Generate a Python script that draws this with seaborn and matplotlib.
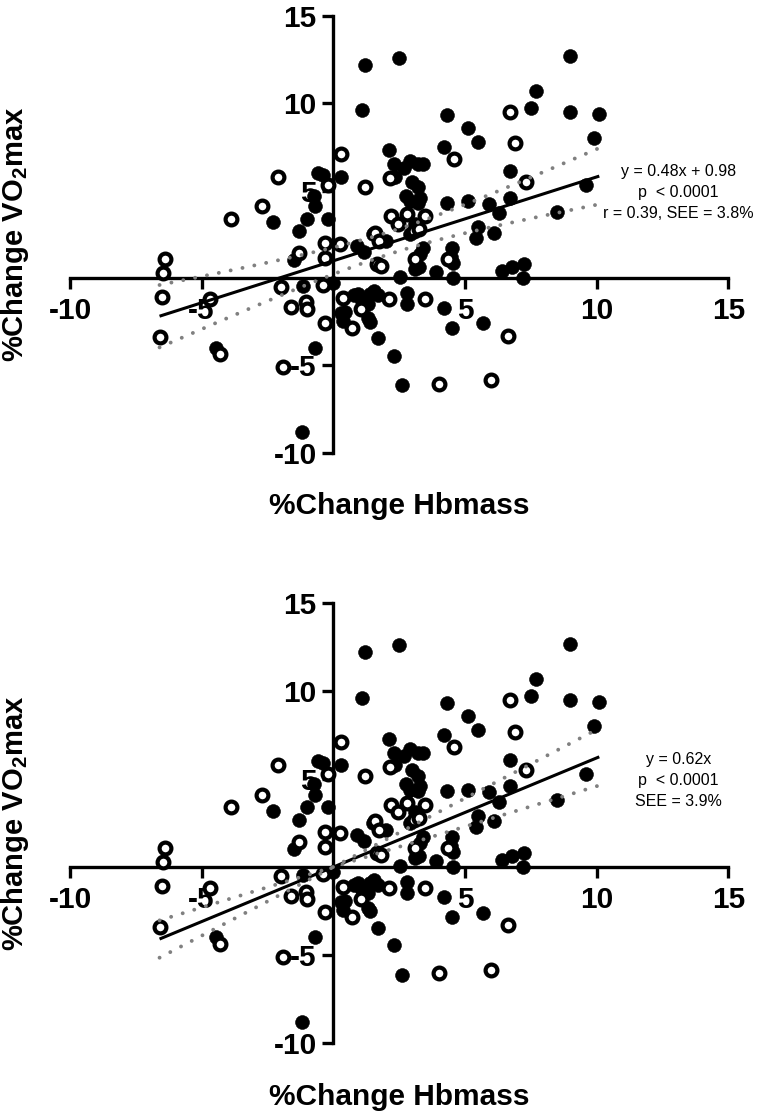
import numpy as np
import pandas as pd
import matplotlib
matplotlib.use("Agg")
import matplotlib.pyplot as plt
import seaborn as sns

# ---------------- data ----------------
filled_x = [1.2, 2.5, 1.1, 9.0, 7.7, 7.5, 9.0, 10.1, 9.9, 4.3, 5.1, 5.5, 4.2, 2.1, 2.3,
            2.9, 3.2, 3.4, 2.7, 0.3, -0.6, -0.4, 2.35, 3.0, 3.2, 3.3, 2.75, 2.9, 3.2, 6.7,
            9.6, 4.3, 5.1, 5.9, 6.3, 6.7, 8.5, 5.5, 5.4, 6.1, 3.1, 0.9, 1.15, 1.5, 2.0,
            2.9, 3.4, 3.3, 3.1, 3.25, 4.5, 4.45, 4.55, 3.9, 2.55, 4.55, 6.4, 6.8, 7.25, 7.2,
            -0.75, -0.7, -2.3, -1.0, -0.2, -1.3, -1.5, -1.15, 0.0, -0.7, -1.2, -4.45, 0.3, 0.45,
            0.35, 0.8, 0.95, 1.1, 1.3, 1.4, 1.55, 1.7, 1.3, 1.4, 1.7, 2.3, 2.6, 2.8, 2.8,
            4.2, 4.5, 5.7]
filled_y = [12.2, 12.6, 9.6, 12.7, 10.7, 9.7, 9.5, 9.4, 8.0, 9.3, 8.6, 7.8, 7.5, 7.3, 6.5,
            6.7, 6.5, 6.5, 6.3, 5.8, 6.0, 5.9, 5.8, 5.5, 5.2, 4.6, 4.7, 4.4, 4.3, 6.1,
            5.3, 4.3, 4.4, 4.25, 3.7, 4.6, 3.8, 2.9, 2.3, 2.6, 3.1, 1.8, 1.5, 2.5, 2.1,
            2.5, 1.7, 1.35, 0.5, 0.6, 1.7, 1.2, 0.85, 0.35, 0.05, 0.0, 0.4, 0.6, 0.8, 0.0,
            4.7, 4.1, 3.2, 3.4, 3.4, 2.7, 1.0, -0.45, -0.3, -4.0, -8.8, -4.0, -2.0, -1.95,
            -2.45, -1.0, -0.9, -1.3, -1.5, -0.9, -0.75, -1.0, -2.3, -2.5, -3.45, -4.45, -6.15, -0.85, -1.5,
            -1.7, -2.85, -2.6]

open_x = [0.3, -2.1, -0.2, 1.2, -2.7, -3.9, -1.3, -0.3, 0.25, -0.3, 1.6, 1.65, -6.4, -6.45,
          -6.5, -6.6, -4.7, -4.3, -2.0, -1.6, -1.05, -1.0, -0.4, -0.3, -1.9, 0.35, 0.7, 1.05,
          2.1, 3.5, 6.65, 4.0, 6.0, 1.8, 6.7, 6.9, 4.6, 2.15, 7.3, 2.2, 2.8, 3.5, 2.45,
          3.05, 3.25, 1.75, 3.1, 4.35]
open_y = [7.1, 5.8, 5.3, 5.2, 4.1, 3.4, 1.4, 2.0, 1.95, 1.15, 2.6, 0.8, 1.1, 0.3,
          -1.1, -3.4, -1.2, -4.35, -0.5, -1.65, -1.4, -1.8, -0.4, -2.55, -5.1, -1.15, -2.85, -1.8,
          -1.2, -1.2, -3.3, -6.05, -5.85, 0.7, 9.5, 7.7, 6.8, 5.7, 5.5, 3.55, 3.65, 3.55, 3.1,
          2.7, 2.8, 2.1, 1.1, 1.1]

x_ticks = [-10, -5, 5, 10, 15]
y_ticks = [-10, -5, 5, 10, 15]

top_slope, top_intercept, top_see = 0.48, 0.98, 3.8
bottom_slope, bottom_see = 0.62, 3.9

top_text = ["y = 0.48x + 0.98", "p  < 0.0001", "r = 0.39, SEE = 3.8%"]
bottom_text = ["y = 0.62x", "p  < 0.0001", "SEE = 3.9%"]

x_label = "%Change Hbmass"
y_label = r"%Change VO$_\mathregular{2}$max"

# ---------------- style ----------------
sns.set_theme(style="white")
plt.rcParams["font.family"] = ["Liberation Sans", "DejaVu Sans"]
plt.rcParams["mathtext.fontset"] = "custom"
plt.rcParams["mathtext.rm"] = "Liberation Sans:bold"
plt.rcParams["mathtext.bf"] = "Liberation Sans:bold"

df_f = pd.DataFrame({"x": filled_x, "y": filled_y})
df_o = pd.DataFrame({"x": open_x, "y": open_y})
all_x = np.array(filled_x + open_x)
n = len(all_x)

fig = plt.figure(figsize=(7.57, 11.11), dpi=100)
ax_top = fig.add_axes([0.0925, 0.5925, 0.8696, 0.3933])
ax_bot = fig.add_axes([0.0925, 0.0612, 0.8696, 0.3960])

t_crit = 1.977


def draw_panel(ax, through_origin, slope, intercept, see, lines):
    sns.scatterplot(data=df_f, x="x", y="y", ax=ax, s=100, color="black",
                    edgecolor="black", linewidth=0.4, zorder=3, legend=False)
    sns.scatterplot(data=df_o, x="x", y="y", ax=ax, s=72, facecolor="white",
                    edgecolor="black", linewidth=3.0, zorder=3, legend=False)

    xs = np.linspace(all_x.min(), all_x.max(), 200)
    yfit = slope * xs + intercept
    if through_origin:
        se = see * np.abs(xs) / np.sqrt(np.sum(all_x ** 2))
    else:
        xbar = all_x.mean()
        sxx = np.sum((all_x - xbar) ** 2)
        se = see * np.sqrt(1.0 / n + (xs - xbar) ** 2 / sxx)
    ax.plot(xs, yfit, color="black", lw=2.2, zorder=5, solid_capstyle="butt")
    for band in (yfit + t_crit * se, yfit - t_crit * se):
        ax.plot(xs, band, color="#808080", lw=2.8, linestyle=(0, (0.01, 3.1)),
                dash_capstyle="round", zorder=5)

    ax.set_xlim(-10, 15)
    ax.set_ylim(-10, 15)
    ax.spines["left"].set_position(("data", 0))
    ax.spines["bottom"].set_position(("data", 0))
    ax.spines["top"].set_visible(False)
    ax.spines["right"].set_visible(False)
    for sp in ("left", "bottom"):
        ax.spines[sp].set_linewidth(2.4)
        ax.spines[sp].set_color("black")
    ax.set_xticks(x_ticks)
    ax.set_yticks(y_ticks)
    ax.set_xticklabels([str(v) for v in x_ticks])
    ax.set_yticklabels([str(v) for v in y_ticks])
    ax.tick_params(axis="both", which="major", direction="out", length=8, width=2.4,
                   color="black", labelsize=21.5, labelcolor="black")
    ax.tick_params(axis="x", pad=6, bottom=True, left=False)
    ax.tick_params(axis="y", pad=4, left=True, bottom=False)
    for lab in ax.get_xticklabels() + ax.get_yticklabels():
        lab.set_fontweight("bold")

    ax.set_xlabel(x_label, fontsize=21.5, fontweight="bold", color="black")
    ax.set_ylabel(y_label, fontsize=21, fontweight="bold", color="black")
    ax.xaxis.set_label_coords(0.5, -0.122)
    ax.xaxis.label.set_va("center")
    ax.yaxis.set_label_coords(-0.084, 0.5)
    ax.yaxis.label.set_va("center")

    for i, s in enumerate(lines):
        ax.text(13.1, 6.1 - i * 1.2, s, ha="center", va="center", fontsize=11.5,
                color="black", zorder=6)
    ax.set_facecolor("white")


draw_panel(ax_top, False, top_slope, top_intercept, top_see, top_text)
draw_panel(ax_bot, True, bottom_slope, 0.0, bottom_see, bottom_text)

fig.patch.set_facecolor("white")
fig.savefig("out.png", dpi=100, facecolor="white")
